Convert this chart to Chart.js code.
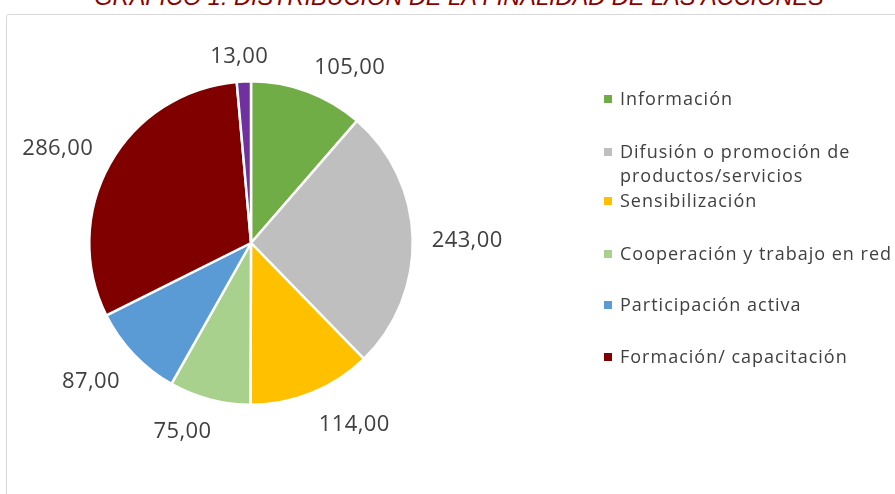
<!DOCTYPE html>
<html>
<head>
<meta charset="utf-8">
<script src="https://cdn.jsdelivr.net/npm/chart.js@4"></script>
<style>
  html, body { margin: 0; padding: 0; background: #fff; overflow: hidden; }
  #wrap { position: relative; width: 895px; height: 494px; }
  #title {
    position: absolute; left: 0; width: 918px; top: -16px; text-align: center;
    font-family: 'Liberation Sans', sans-serif; font-style: italic; font-size: 23.5px;
    color: #8B0000; white-space: nowrap;
  }
  #frame {
    position: absolute; left: 6px; top: 14px; width: 1000px; height: 600px;
    border: 1px solid #d9d9d9; border-radius: 3px; box-sizing: border-box;
  }
  canvas { position: absolute; left: 0; top: 0; }
</style>
</head>
<body>
<div id="wrap">
  <div id="title">GRÁFICO 1. DISTRIBUCIÓN DE LA FINALIDAD DE LAS ACCIONES</div>
  <div id="frame"></div>
  <canvas id="chart" width="895" height="494"></canvas>
</div>
<script>
const categories = [
  'Información',
  'Difusión o promoción de productos/servicios',
  'Sensibilización',
  'Cooperación y trabajo en red',
  'Participación activa',
  'Formación/ capacitación',
  'Otros'
];
const values = [105, 243, 114, 75, 87, 286, 13];
const colors = ['#70AD47', '#BFBFBF', '#FFC000', '#A9D18E', '#5B9BD5', '#800000', '#7030A0'];

// legend lines as shown (the last slice has no legend entry)
const legendLines = [
  ['Información'],
  ['Difusión o promoción de', 'productos/servicios'],
  ['Sensibilización'],
  ['Cooperación y trabajo en red'],
  ['Participación activa'],
  ['Formación/ capacitación']
];

const fmt = v => v.toFixed(2).replace('.', ',');
const clamp = v => Math.max(-1, Math.min(1, v));

// labels outside the pie, box corner touching a point just past the rim
const labelPlugin = {
  id: 'outLabels',
  afterDatasetsDraw(chart) {
    const ctx = chart.ctx;
    const meta = chart.getDatasetMeta(0);
    ctx.save();
    ctx.font = "22px 'Open Sans', sans-serif";
    ctx.letterSpacing = '0.4px';
    ctx.fillStyle = '#404040';
    ctx.textAlign = 'center';
    ctx.textBaseline = 'middle';
    meta.data.forEach((arc, i) => {
      const p = arc.getProps(['x', 'y', 'startAngle', 'endAngle', 'outerRadius'], true);
      const mid = (p.startAngle + p.endAngle) / 2;
      const dx = Math.cos(mid), dy = Math.sin(mid);
      const d = p.outerRadius + 19;
      const txt = fmt(values[i]);
      const w = ctx.measureText(txt).width, h = 20;
      const x = p.x + dx * d + clamp(dx * 3) * w / 2;
      const y = p.y + dy * d + clamp(dy * 3) * h / 2 + 4;
      ctx.fillText(txt, x, y);
    });
    ctx.restore();
  }
};

const legendPlugin = {
  id: 'sideLegend',
  afterDraw(chart) {
    const ctx = chart.ctx;
    ctx.save();
    ctx.font = "18px 'Open Sans', sans-serif";
    ctx.letterSpacing = '1px';
    ctx.textBaseline = 'middle';
    const rows = [99, 152, 201, 254, 305, 357];
    legendLines.forEach((lines, i) => {
      const y = rows[i];
      ctx.fillStyle = colors[i];
      ctx.fillRect(604, y - 4, 8, 8);
      ctx.fillStyle = '#404040';
      lines.forEach((t, j) => ctx.fillText(t, 620, y + 1 + j * 24));
    });
    ctx.restore();
  }
};

new Chart(document.getElementById('chart'), {
  type: 'pie',
  data: {
    labels: categories,
    datasets: [{
      data: values,
      backgroundColor: colors,
      borderColor: '#ffffff',
      borderWidth: 2.5
    }]
  },
  options: {
    responsive: false,
    animation: false,
    layout: { padding: { left: 88, right: 481, top: 80, bottom: 88 } },
    plugins: { legend: { display: false }, tooltip: { enabled: false } }
  },
  plugins: [labelPlugin, legendPlugin]
});
</script>
</body>
</html>
